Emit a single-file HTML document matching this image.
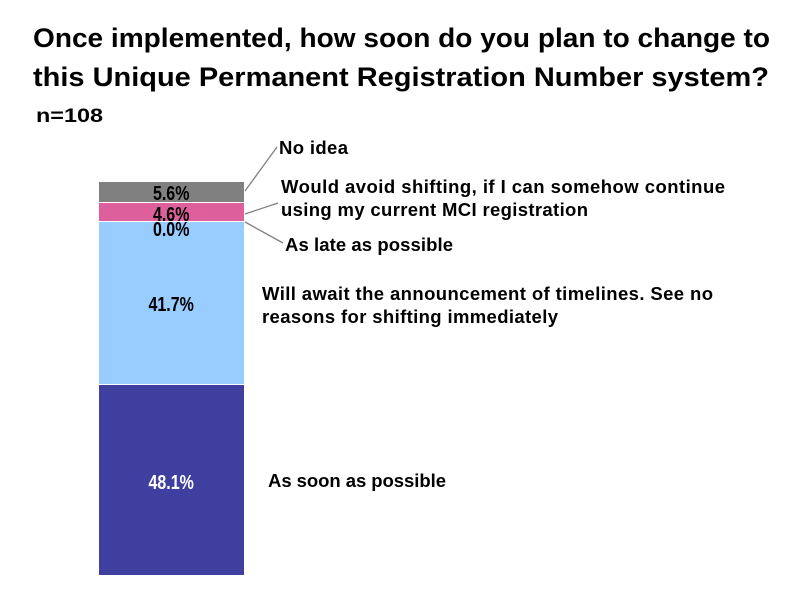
<!DOCTYPE html>
<html><head><style>
body{margin:0;width:800px;height:600px;background:#fff;overflow:hidden;font-family:"Liberation Sans",sans-serif}
</style></head><body>
<svg width="800" height="600" xmlns="http://www.w3.org/2000/svg" font-family="Liberation Sans, sans-serif" font-weight="bold">
<text x="33" y="47" font-size="27" textLength="737" lengthAdjust="spacingAndGlyphs" fill="#000">Once implemented, how soon do you plan to change to</text>
<text x="33" y="86" font-size="27" textLength="736" lengthAdjust="spacingAndGlyphs" fill="#000">this Unique Permanent Registration Number system?</text>
<text x="36" y="122" font-size="19" textLength="67" lengthAdjust="spacingAndGlyphs" fill="#000">n=108</text>
<rect x="99" y="182" width="145" height="20" fill="#808080"/>
<rect x="99" y="203" width="145" height="18" fill="#dd5f9b"/>
<rect x="99" y="222" width="145" height="162" fill="#99ccff"/>
<rect x="99" y="385" width="145" height="190" fill="#3f3f9f"/>
<g font-size="20" text-anchor="middle" transform="scale(0.8,1)">
<text x="214" y="200" fill="#000">5.6%</text>
<text x="214" y="221" fill="#000">4.6%</text>
<text x="214" y="236" fill="#000">0.0%</text>
<text x="214" y="311" fill="#000">41.7%</text>
<text x="214" y="489" fill="#fff">48.1%</text>
</g>
<g stroke="#808080" stroke-width="1.3" fill="none">
<path d="M245 191 L277 147"/>
<path d="M245 214 L278 203"/>
<path d="M245 222 L283 243"/>
</g>
<g font-size="18.5" fill="#000" lengthAdjust="spacingAndGlyphs">
<text x="279" y="154" textLength="69">No idea</text>
<text x="281" y="193" textLength="444">Would avoid shifting, if I can somehow continue</text>
<text x="281" y="216" textLength="307">using my current MCI registration</text>
<text x="285" y="251" textLength="168">As late as possible</text>
<text x="262" y="300" textLength="451">Will await the announcement of timelines. See no</text>
<text x="262" y="323" textLength="296">reasons for shifting immediately</text>
<text x="268" y="487" textLength="178">As soon as possible</text>
</g>
</svg>
</body></html>
